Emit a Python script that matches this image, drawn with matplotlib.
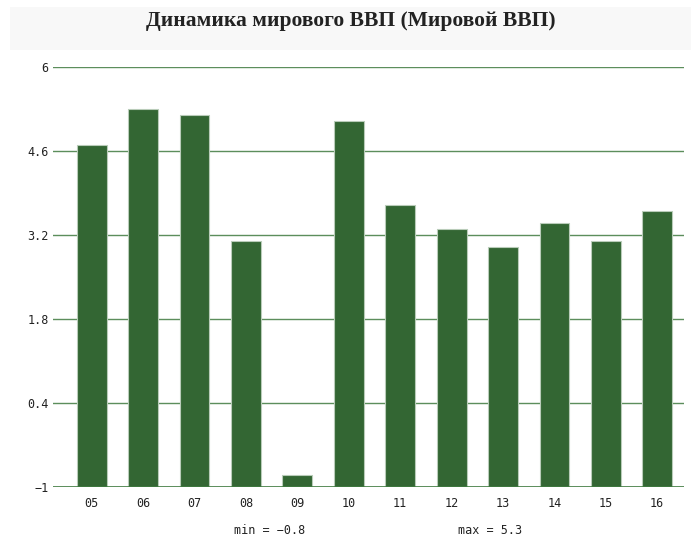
import matplotlib.pyplot as plt
from matplotlib.patches import Rectangle

# data
years = ["05", "06", "07", "08", "09", "10", "11", "12", "13", "14", "15", "16"]
gdp = [4.7, 5.3, 5.2, 3.1, -0.8, 5.1, 3.7, 3.3, 3.0, 3.4, 3.1, 3.6]
yticks = [-1, 0.4, 1.8, 3.2, 4.6, 6]
ytick_labels = ["\u22121", "0.4", "1.8", "3.2", "4.6", "6"]

bar_color = "#336633"
grid_color = "#3f7a3f"
mono = ["DejaVu Sans Mono"]

fig = plt.figure(figsize=(6.91, 5.38), dpi=100)
fig.patch.set_facecolor("white")

# title band
fig.patches.append(Rectangle((10 / 691, 1 - 50 / 538), 681 / 691, 43 / 538,
                             transform=fig.transFigure, facecolor="#f8f8f8",
                             edgecolor="none", zorder=0))
fig.text(351 / 691, 1 - 21 / 538, "Динамика мирового ВВП (Мировой ВВП)",
         ha="center", va="center", fontsize=15.5, weight="bold",
         family=["Liberation Serif", "DejaVu Serif"], color="#222222")

ax = fig.add_axes([53 / 691, 51 / 538, 631 / 691, 420 / 538])
ax.set_xlim(-0.753, 11.52)
ax.set_ylim(-1, 6)

x = list(range(len(years)))
for yt in yticks[1:]:
    ax.axhline(yt, color=grid_color, lw=1, alpha=0.85, zorder=1)
ax.bar(x, [v - (-1) for v in gdp], bottom=-1, width=0.58, color=bar_color,
       edgecolor="#b9ccb9", linewidth=0.8, zorder=2)
ax.axhline(-1, color=grid_color, lw=1.2, zorder=3)

for s in ax.spines.values():
    s.set_visible(False)
ax.set_yticks(yticks)
ax.set_yticklabels(ytick_labels, family=mono, fontsize=8.5, color="#222222")
ax.set_xticks(x)
ax.set_xticklabels(years, family=mono, fontsize=8.5, color="#222222")
ax.tick_params(axis="y", length=0, pad=3)
ax.tick_params(axis="x", length=0, pad=7)

fig.text(270 / 691, 1 - 530 / 538, "min = \u22120.8", ha="center", va="center",
         family=mono, fontsize=8.5, color="#222222")
fig.text(490 / 691, 1 - 530 / 538, "max = 5.3", ha="center", va="center",
         family=mono, fontsize=8.5, color="#222222")

fig.savefig("out.png", dpi=100, facecolor="white")
